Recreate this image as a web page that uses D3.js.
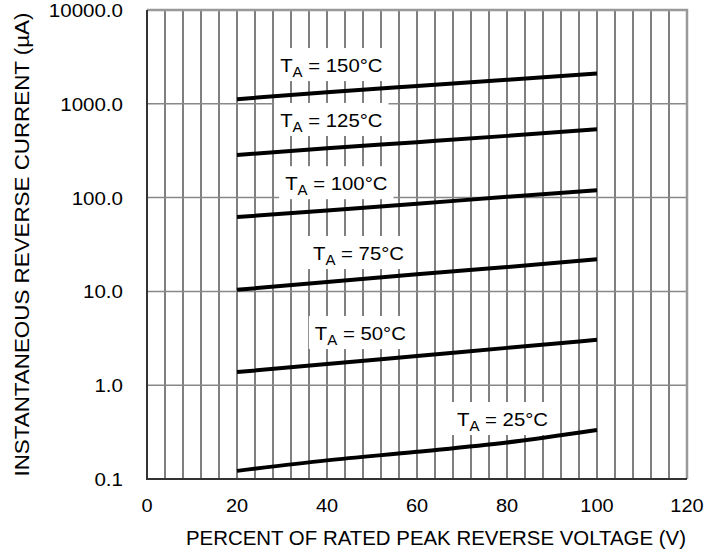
<!DOCTYPE html>
<html>
<head>
<meta charset="utf-8">
<script src="https://cdn.jsdelivr.net/npm/d3@7"></script>
<style>
  body { margin: 0; background: #fff; }
  text { font-family: "Liberation Sans", Arial, sans-serif; fill: #000; }
</style>
</head>
<body>
<script>
// values (percent of rated voltage -> reverse current, uA)
const voltage = [20, 40, 60, 80, 100];
const temps = ["150", "125", "100", "75", "50", "25"];
const cur150 = [1120, 1330, 1550, 1800, 2100];
const cur125 = [285, 335, 390, 455, 535];
const cur100 = [62, 73, 86, 102, 120];
const cur75 = [10.4, 12.6, 15.2, 18.2, 22];
const cur50 = [1.38, 1.68, 2.05, 2.5, 3.05];
const cur25 = [0.122, 0.158, 0.195, 0.245, 0.333];
const yTicks = [0.1, 1, 10, 100, 1000, 10000];
const yTickLabels = ["0.1", "1.0", "10.0", "100.0", "1000.0", "10000.0"];
const xTicks = [0, 20, 40, 60, 80, 100, 120];

const series = [cur150, cur125, cur100, cur75, cur50, cur25];
// Position der Beschriftungen (x in %, y in uA, Grundlinie)
const labelPos = [[29.6, 2180], [29.6, 566], [30.7, 120], [36.9, 21.6], [37.3, 3.03], [68.9, 0.367]];

let width = 719;
let height = 556;
let margin = { left: 147, right: 32, top: 10, bottom: 77 };

let svg = d3.select("body").append("svg")
  .attr("width", width)
  .attr("height", height);

let x = d3.scaleLinear().domain([0, 120]).range([margin.left, width - margin.right]);
let y = d3.scaleLog().domain([0.1, 10000]).range([height - margin.bottom, margin.top]);

// Text etwas breiter ziehen (Originalschrift ist breiter als Arial)
function stretch(sel, f) {
  sel.each(function () {
    let len = this.getComputedTextLength();
    d3.select(this).attr("textLength", len * f).attr("lengthAdjust", "spacingAndGlyphs");
  });
}

// vertikale Gitterlinien alle 4 %
let grid = svg.append("g");
grid.selectAll(".vx")
  .data(d3.range(4, 120, 4))
  .enter()
  .append("line")
  .attr("x1", d => x(d)).attr("x2", d => x(d))
  .attr("y1", y(10000)).attr("y2", y(0.1))
  .style("stroke", "#000")
  .style("stroke-width", 1);

// horizontale Gitterlinien bei Dekaden
grid.selectAll(".hy")
  .data(yTicks.slice(1, -1))
  .enter()
  .append("line")
  .attr("x1", x(0)).attr("x2", x(120))
  .attr("y1", d => y(d)).attr("y2", d => y(d))
  .style("stroke", "#888")
  .style("stroke-width", 1.5);

// Rahmen
svg.append("path")
  .attr("d", `M${x(0)},${y(10000)}H${x(120)}V${y(0.1)}`)
  .style("fill", "none").style("stroke", "#999").style("stroke-width", 2.5);
svg.append("path")
  .attr("d", `M${x(0)},${y(10000)}V${y(0.1)}H${x(120)}`)
  .style("fill", "none").style("stroke", "#333").style("stroke-width", 2);

// Beschriftungen der Kurven mit weissem Hintergrund
let labels = svg.selectAll(".lbl")
  .data(temps)
  .enter()
  .append("g")
  .attr("transform", (d, i) => `translate(${x(labelPos[i][0])},${y(labelPos[i][1])})`);

labels.append("rect").style("fill", "#fff");

let lt = labels.append("text").style("font-size", "19px");
lt.append("tspan").text("T");
lt.append("tspan").attr("dy", 5).style("font-size", "14px").text("A");
lt.append("tspan").attr("dy", -5).text(d => " = " + d + "\u00b0C");
stretch(lt, 1.07);

lt.each(function () {
  let b = this.getBBox();
  d3.select(this.parentNode).select("rect")
    .attr("x", b.x - 6).attr("y", -24)
    .attr("width", b.width + 12).attr("height", 33);
});

// Kurven
let line = d3.line()
  .x((d, i) => x(voltage[i]))
  .y(d => y(d))
  .curve(d3.curveMonotoneX);

svg.selectAll(".curve")
  .data(series)
  .enter()
  .append("path")
  .attr("d", line)
  .style("fill", "none")
  .style("stroke", "#000")
  .style("stroke-width", 4);

// Achsenbeschriftung
let yt = svg.selectAll(".yt")
  .data(yTicks)
  .enter()
  .append("text")
  .attr("x", x(0) - 24)
  .attr("y", d => y(d) + 7)
  .attr("text-anchor", "end")
  .style("font-size", "19px")
  .text((d, i) => yTickLabels[i]);
stretch(yt, 1.08);

let xt = svg.selectAll(".xt")
  .data(xTicks)
  .enter()
  .append("text")
  .attr("x", d => x(d))
  .attr("y", y(0.1) + 33)
  .attr("text-anchor", "middle")
  .style("font-size", "19px")
  .text(d => d);
stretch(xt, 1.05);

svg.append("text")
  .attr("x", 436)
  .attr("y", 545)
  .attr("text-anchor", "middle")
  .attr("textLength", 500)
  .attr("lengthAdjust", "spacingAndGlyphs")
  .style("font-size", "20px")
  .text("PERCENT OF RATED PEAK REVERSE VOLTAGE (V)");

svg.append("text")
  .attr("transform", `translate(29,${(y(0.1) + y(10000)) / 2}) rotate(-90)`)
  .attr("text-anchor", "middle")
  .attr("textLength", 464)
  .attr("lengthAdjust", "spacingAndGlyphs")
  .style("font-size", "21px")
  .text("INSTANTANEOUS REVERSE CURRENT (\u00b5A)");
</script>
</body>
</html>
